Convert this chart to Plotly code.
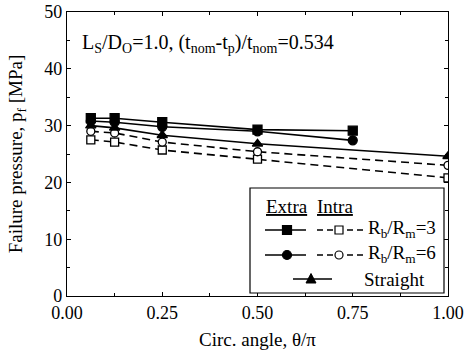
import plotly.graph_objects as go

# ---- data ----
x_extra = [0.0625, 0.125, 0.25, 0.5, 0.75]
x_other = [0.0625, 0.125, 0.25, 0.5, 1.0]
extra_rb3 = [31.3, 31.3, 30.6, 29.3, 29.1]
extra_rb6 = [30.8, 30.6, 29.8, 29.0, 27.4]
straight = [30.0, 29.6, 28.3, 26.8, 24.6]
intra_rb6 = [29.0, 28.7, 27.1, 25.4, 23.0]
intra_rb3 = [27.5, 27.1, 25.7, 24.1, 20.8]

x_ticks = [0.0, 0.25, 0.5, 0.75, 1.0]
x_ticklabels = ["0.00", "0.25", "0.50", "0.75", "1.00"]
y_ticks = [0, 10, 20, 30, 40, 50]

FONT = "Times New Roman, Liberation Serif, Tinos, serif"
BLACK = "black"
DASH = "8px,5px"

fig = go.Figure()

def add(x, y, symbol, filled, dash):
    fig.add_trace(go.Scatter(
        x=x, y=y, mode="lines+markers",
        line=dict(color=BLACK, width=1.6, dash=dash),
        marker=dict(symbol=symbol, size=9 if filled else 8, color=BLACK if filled else "white",
                    line=dict(color=BLACK, width=1.3)),
        showlegend=False, cliponaxis=True))

add(x_other, intra_rb3, "square", False, DASH)
add(x_other, intra_rb6, "circle", False, DASH)
add(x_other, straight, "triangle-up", True, "solid")
add(x_extra, extra_rb6, "circle", True, "solid")
add(x_extra, extra_rb3, "square", True, "solid")

# invisible trace to activate mirror axes (top/right inside ticks)
fig.add_trace(go.Scatter(x=[None], y=[None], xaxis="x2", yaxis="y2", showlegend=False, hoverinfo="skip"))

axis_common = dict(showgrid=False, zeroline=False, showline=True, linecolor=BLACK, linewidth=1.2,
                   tickcolor=BLACK, automargin=False,
                   tickfont=dict(family=FONT, size=18, color=BLACK))

fig.update_layout(
    width=473, height=359,
    margin=dict(l=67, r=25, t=12, b=63, autoexpand=False),
    paper_bgcolor="white", plot_bgcolor="white",
    font=dict(family=FONT, color=BLACK),
    xaxis=dict(range=[0, 1], tickvals=x_ticks, ticktext=x_ticklabels, ticks="inside", ticklen=4,
               minor=dict(ticks="inside", dtick=0.125, ticklen=3, tickcolor=BLACK),
               title=dict(text="Circ. angle, θ/π", font=dict(family=FONT, size=19), standoff=10),
               **axis_common),
    yaxis=dict(range=[0, 50], tickvals=y_ticks, ticks="inside", ticklen=4,
               minor=dict(ticks="inside", dtick=5, ticklen=3, tickcolor=BLACK),
               title=dict(text="Failure pressure, p<sub>f</sub> [MPa]", font=dict(family=FONT, size=19), standoff=16),
               **axis_common),
    xaxis2=dict(range=[0, 1], overlaying="x", side="top", anchor="y2", tickvals=x_ticks, showticklabels=False,
                ticks="inside", ticklen=4, minor=dict(ticks="inside", dtick=0.125, ticklen=3, tickcolor=BLACK),
                showline=True, showgrid=False, zeroline=False, linecolor=BLACK, linewidth=1.2, tickcolor=BLACK,
                automargin=False),
    yaxis2=dict(range=[0, 50], overlaying="y", side="right", anchor="x2", tickvals=y_ticks, showticklabels=False,
                ticks="inside", ticklen=4, minor=dict(ticks="inside", dtick=5, ticklen=3, tickcolor=BLACK),
                showline=True, showgrid=False, zeroline=False, linecolor=BLACK, linewidth=1.2, tickcolor=BLACK,
                automargin=False),
)

# ---- custom legend (paper coords) ----
L, R, B, T = 67, 448, 296, 12
def px(xp): return (xp - L) / (R - L)
def py(yp): return (B - yp) / (B - T)

# title text
fig.add_annotation(xref="paper", yref="paper", x=px(80), y=py(44), xanchor="left", yanchor="middle",
                   text="L<sub>S</sub>/D<sub>O</sub>=1.0, (t<sub>nom</sub>-t<sub>p</sub>)/t<sub>nom</sub>=0.534",
                   showarrow=False, font=dict(family=FONT, size=20, color=BLACK))

shapes = []
shapes.append(dict(type="rect", xref="paper", yref="paper", x0=px(250), x1=px(444), y0=py(293), y1=py(188),
                   line=dict(color=BLACK, width=1.2), fillcolor="white", layer="above"))

def hline(x0, x1, y, dash):
    shapes.append(dict(type="line", xref="paper", yref="paper", x0=px(x0), x1=px(x1), y0=py(y), y1=py(y),
                       line=dict(color=BLACK, width=1.6, dash=dash), layer="above"))

def marker(kind, cx, cy, filled, s=4.5):
    fc = BLACK if filled else "white"
    if kind == "square":
        shapes.append(dict(type="rect", xref="paper", yref="paper", x0=px(cx - s), x1=px(cx + s),
                           y0=py(cy + s), y1=py(cy - s), fillcolor=fc, line=dict(color=BLACK, width=1.2), layer="above"))
    elif kind == "circle":
        shapes.append(dict(type="circle", xref="paper", yref="paper", x0=px(cx - s), x1=px(cx + s),
                           y0=py(cy + s), y1=py(cy - s), fillcolor=fc, line=dict(color=BLACK, width=1.2), layer="above"))
    else:
        path = "M {} {} L {} {} L {} {} Z".format(px(cx - s - 0.5), py(cy + s - 0.5), px(cx + s + 0.5), py(cy + s - 0.5), px(cx), py(cy - s - 1))
        shapes.append(dict(type="path", xref="paper", yref="paper", path=path, fillcolor=fc,
                           line=dict(color=BLACK, width=1.0), layer="above"))

rows = [(230, "square"), (255, "circle")]
for yr, k in rows:
    hline(265, 306, yr, "solid")
    marker(k, 287, yr, True)
    hline(317, 363, yr, "6px,4px")
    marker(k, 339, yr, False, s=4)
hline(293, 332, 279, "solid")
marker("triangle", 311, 279, True)

fig.update_layout(shapes=shapes)

def ann(x, y, text, anchor="left"):
    fig.add_annotation(xref="paper", yref="paper", x=px(x), y=py(y), xanchor=anchor, yanchor="middle",
                       text=text, showarrow=False, font=dict(family=FONT, size=19, color=BLACK))

ann(264, 206, "<u>Extra</u>")
ann(315, 206, "<u>Intra</u>")
ann(366, 229, "R<sub>b</sub>/R<sub>m</sub>=3")
ann(366, 254, "R<sub>b</sub>/R<sub>m</sub>=6")
ann(362, 279, "Straight")

fig.write_html("out.html", config={"displayModeBar": False},
               post_script="document.body.style.margin='0px';")
